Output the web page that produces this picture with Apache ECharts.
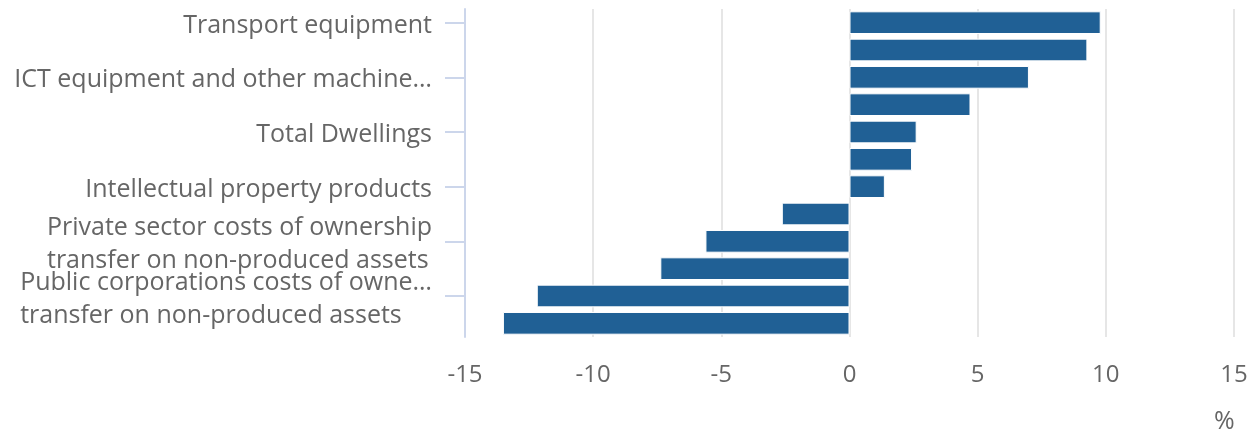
<!DOCTYPE html>
<html>
<head>
<meta charset="utf-8">
<script src="https://cdn.jsdelivr.net/npm/echarts@6/dist/echarts.min.js"></script>
<style>
html,body{margin:0;padding:0;background:#fff;}
#chart{width:1254px;height:432px;}
</style>
</head>
<body>
<div id="chart"></div>
<script>
var categories = [
  "Transport equipment",
  "Other buildings and structures",
  "ICT equipment and other machinery and equipment",
  "Business investment",
  "Total Dwellings",
  "Private sector dwellings",
  "Intellectual property products",
  "Gross fixed capital formation",
  "Private sector costs of ownership\ntransfer on non-produced assets",
  "General government",
  "Public corporations costs of ownership\ntransfer on non-produced assets",
  "Public corporations dwellings"
];
var values = [9.8, 9.28, 7.0, 4.72, 2.62, 2.44, 1.38, -2.64, -5.62, -7.38, -12.2, -13.52];
var xTicks = { min: -15, max: 15, interval: 5 };
var unitLabel = "%";

var LABEL_FONT = '25px "Open Sans"';
var measureCtx = document.createElement('canvas').getContext('2d');
measureCtx.font = LABEL_FONT;
function truncateLine(s, maxW) {
  if (measureCtx.measureText(s).width <= maxW) return s;
  var t = s;
  while (t.length > 0 && measureCtx.measureText(t + '…').width > maxW) t = t.slice(0, -1);
  return t + '…';
}
function everyOther(index) { return index % 2 === 0; }

var chart = echarts.init(document.getElementById('chart'));
chart.setOption({
  animation: false,
  textStyle: { fontFamily: 'Open Sans' },
  title: {
    text: unitLabel,
    left: 1209, top: 404,
    textStyle: { color: '#666666', fontSize: 25, fontWeight: 'normal', fontFamily: 'Open Sans' }
  },
  grid: { left: 465, right: 20, top: 9, bottom: 95, containLabel: false },
  xAxis: {
    type: 'value',
    min: xTicks.min, max: xTicks.max, interval: xTicks.interval,
    axisLine: { show: false },
    axisTick: { show: false },
    splitLine: { show: true, lineStyle: { color: '#e6e6e6', width: 2 } },
    axisLabel: { color: '#666666', fontSize: 24, margin: 26, fontFamily: 'Open Sans' }
  },
  yAxis: {
    type: 'category',
    inverse: true,
    data: categories,
    axisLine: { show: true, onZero: false, lineStyle: { color: '#ccd6eb', width: 2 } },
    axisTick: { show: true, interval: everyOther, alignWithLabel: true, length: 20, lineStyle: { color: '#ccd6eb', width: 2 } },
    axisLabel: {
      interval: 0, hideOverlap: false, showMinLabel: true, showMaxLabel: true,
      color: '#666666', fontSize: 25, margin: 33, lineHeight: 33,
      fontFamily: 'Open Sans',
      padding: [6, 0, 0, 0],
      formatter: function (v, idx) {
        if (idx % 2 !== 0) return '';
        return v.split('\n').map(function (s) { return '{l|' + truncateLine(s, 418) + '}'; }).join('\n');
      },
      rich: {
        l: { align: 'left', color: '#666666', fontSize: 25, lineHeight: 33, fontFamily: 'Open Sans' }
      }
    }
  },
  series: [{
    type: 'bar',
    data: values,
    barCategoryGap: '17%',
    itemStyle: { color: '#206095', borderColor: '#ffffff', borderWidth: 1 }
  }]
});
</script>
</body>
</html>
